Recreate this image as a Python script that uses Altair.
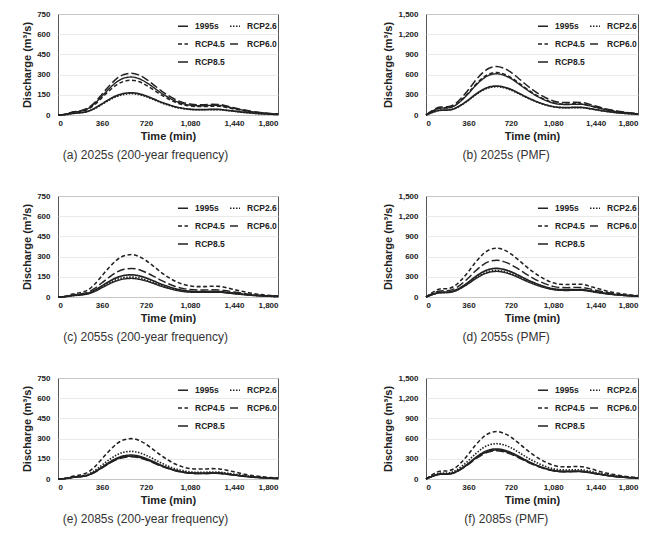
import altair as alt
import pandas as pd

# Time axis of every hydrograph (min)
time_min = list(range(0, 1801, 60))

scenarios = ["1995s", "RCP2.6", "RCP4.5", "RCP6.0", "RCP8.5"]

# (a) 2025s, 200-year frequency
a_1995s = [0, 3, 12, 17, 26, 50, 83, 116, 144, 160, 165, 158, 142, 120, 97, 78, 61, 50, 43, 40, 40, 42, 41, 35, 29, 22, 17, 12, 9, 6, 4]
a_rcp26 = [0, 3, 11, 16, 25, 47, 79, 111, 137, 153, 158, 152, 136, 115, 93, 74, 58, 47, 41, 39, 39, 40, 40, 34, 28, 21, 16, 11, 8, 6, 4]
a_rcp45 = [0, 5, 18, 26, 41, 77, 129, 181, 224, 250, 258, 248, 222, 188, 152, 121, 95, 77, 67, 63, 63, 66, 65, 55, 45, 35, 26, 19, 13, 9, 6]
a_rcp60 = [0, 6, 22, 31, 50, 93, 155, 217, 270, 301, 310, 298, 267, 226, 183, 146, 115, 93, 81, 76, 76, 79, 78, 67, 54, 42, 31, 22, 16, 11, 7]
a_rcp85 = [0, 6, 20, 28, 45, 85, 141, 197, 245, 274, 282, 271, 243, 206, 166, 133, 104, 85, 73, 69, 69, 72, 71, 61, 49, 38, 28, 20, 15, 10, 7]

# (b) 2025s, PMF
b_1995s = [0, 43, 71, 73, 95, 151, 224, 305, 374, 417, 430, 415, 381, 331, 277, 228, 185, 151, 125, 112, 110, 113, 112, 98, 80, 62, 47, 35, 26, 18, 12]
b_rcp26 = [0, 42, 69, 71, 92, 147, 218, 298, 365, 407, 420, 405, 372, 323, 271, 223, 181, 147, 122, 109, 107, 110, 109, 96, 78, 61, 46, 34, 25, 18, 12]
b_rcp45 = [0, 63, 104, 107, 139, 221, 329, 449, 550, 613, 632, 610, 559, 487, 408, 335, 272, 221, 183, 164, 161, 166, 164, 144, 117, 92, 70, 52, 38, 27, 18]
b_rcp60 = [0, 72, 119, 122, 158, 252, 374, 511, 626, 698, 720, 695, 637, 554, 464, 382, 310, 252, 209, 187, 184, 189, 187, 164, 133, 104, 79, 59, 43, 30, 20]
b_rcp85 = [0, 61, 101, 104, 135, 214, 318, 435, 532, 594, 612, 591, 542, 471, 395, 324, 263, 214, 177, 159, 156, 160, 159, 140, 113, 89, 67, 50, 37, 26, 17]

# (c) 2055s, 200-year frequency
c_1995s = [0, 3, 12, 17, 26, 50, 83, 116, 144, 160, 165, 158, 142, 120, 97, 78, 61, 50, 43, 40, 40, 42, 41, 35, 29, 22, 17, 12, 9, 6, 4]
c_rcp26 = [0, 3, 10, 15, 24, 44, 74, 104, 129, 144, 148, 142, 127, 108, 87, 70, 55, 44, 38, 36, 36, 38, 37, 32, 26, 20, 15, 11, 8, 5, 4]
c_rcp45 = [0, 6, 22, 32, 50, 95, 158, 221, 274, 306, 315, 302, 271, 230, 186, 148, 117, 95, 82, 77, 77, 80, 79, 68, 55, 43, 32, 23, 16, 11, 8]
c_rcp60 = [0, 4, 15, 21, 34, 64, 106, 148, 184, 206, 212, 204, 182, 155, 125, 100, 78, 64, 55, 52, 52, 54, 53, 46, 37, 29, 21, 15, 11, 8, 5]
c_rcp85 = [0, 3, 10, 14, 22, 41, 69, 97, 120, 134, 138, 132, 119, 101, 81, 65, 51, 41, 36, 34, 34, 35, 35, 30, 24, 19, 14, 10, 7, 5, 3]

# (d) 2055s, PMF
d_1995s = [0, 43, 70, 72, 94, 149, 221, 302, 370, 412, 425, 410, 376, 327, 274, 225, 183, 149, 123, 111, 108, 111, 111, 97, 79, 62, 47, 35, 26, 18, 12]
d_rcp26 = [0, 40, 65, 67, 87, 138, 205, 280, 344, 383, 395, 381, 350, 304, 255, 209, 170, 138, 115, 103, 101, 103, 103, 90, 73, 57, 43, 32, 24, 17, 11]
d_rcp45 = [0, 73, 120, 123, 160, 254, 377, 515, 631, 703, 725, 700, 642, 558, 468, 384, 312, 254, 210, 189, 185, 190, 189, 165, 134, 105, 80, 59, 44, 30, 20]
d_rcp60 = [0, 55, 90, 93, 120, 191, 283, 387, 474, 529, 545, 526, 482, 420, 352, 289, 234, 191, 158, 142, 139, 143, 142, 124, 101, 79, 60, 45, 33, 23, 15]
d_rcp85 = [0, 38, 63, 65, 84, 133, 198, 270, 331, 369, 380, 367, 336, 293, 245, 201, 163, 133, 110, 99, 97, 100, 99, 87, 70, 55, 42, 31, 23, 16, 11]

# (e) 2085s, 200-year frequency
e_1995s = [0, 3, 12, 17, 27, 51, 85, 119, 148, 165, 170, 163, 146, 124, 100, 80, 63, 51, 44, 42, 42, 43, 43, 37, 30, 23, 17, 12, 9, 6, 4]
e_rcp26 = [0, 4, 14, 21, 33, 62, 103, 144, 178, 199, 205, 197, 176, 150, 121, 96, 76, 62, 53, 50, 50, 52, 51, 44, 36, 28, 21, 15, 11, 7, 5]
e_rcp45 = [0, 6, 21, 30, 48, 90, 150, 210, 261, 291, 300, 288, 258, 219, 177, 141, 111, 90, 78, 74, 74, 77, 75, 65, 53, 41, 30, 22, 16, 11, 7]
e_rcp60 = [0, 3, 12, 17, 26, 50, 83, 116, 144, 160, 165, 158, 142, 120, 97, 78, 61, 50, 43, 40, 40, 42, 41, 35, 29, 22, 17, 12, 9, 6, 4]
e_rcp85 = [0, 4, 12, 18, 28, 53, 89, 125, 155, 173, 178, 171, 153, 130, 105, 84, 66, 53, 46, 44, 44, 45, 45, 38, 31, 24, 18, 13, 9, 6, 4]

# (f) 2085s, PMF
f_1995s = [0, 43, 71, 73, 95, 151, 225, 307, 376, 419, 432, 417, 382, 333, 279, 229, 186, 151, 125, 112, 110, 113, 112, 98, 80, 63, 48, 35, 26, 18, 12]
f_rcp26 = [0, 53, 87, 89, 116, 184, 273, 373, 457, 509, 525, 507, 465, 404, 339, 278, 226, 184, 152, 137, 134, 138, 137, 120, 97, 76, 58, 43, 32, 22, 15]
f_rcp45 = [0, 71, 116, 120, 155, 247, 367, 501, 613, 684, 705, 680, 624, 543, 455, 374, 303, 247, 204, 183, 180, 185, 183, 161, 130, 102, 78, 58, 42, 30, 20]
f_rcp60 = [0, 42, 69, 71, 92, 146, 217, 297, 364, 405, 418, 403, 370, 322, 270, 222, 180, 146, 121, 109, 107, 110, 109, 95, 77, 61, 46, 34, 25, 18, 12]
f_rcp85 = [0, 45, 74, 76, 99, 157, 233, 318, 390, 435, 448, 432, 396, 345, 289, 237, 193, 157, 130, 116, 114, 117, 116, 102, 83, 65, 49, 37, 27, 19, 13]

captions = [
    "(a) 2025s (200-year frequency)",
    "(b) 2025s (PMF)",
    "(c) 2055s (200-year frequency)",
    "(d) 2055s (PMF)",
    "(e) 2085s (200-year frequency)",
    "(f) 2085s (PMF)",
]

x_ticks = [0, 360, 720, 1080, 1440, 1800]
y_ticks_200 = [0, 150, 300, 450, 600, 750]
y_ticks_pmf = [0, 300, 600, 900, 1200, 1500]

FONT = "Liberation Sans"
INK = "#222222"


def to_frame(series_values):
    rows = []
    for name, vals in zip(scenarios, series_values):
        for t, q in zip(time_min, vals):
            rows.append({"time": t, "discharge": q, "scenario": name})
    return pd.DataFrame(rows)


def panel(series_values, y_ticks, caption, width, legend_x):
    df = to_frame(series_values)
    legend_common = dict(
        title=None,
        orient="none",
        legendX=legend_x,
        legendY=6,
        direction="horizontal",
        columns=2,
    )
    return (
        alt.Chart(df)
        .mark_line(interpolate="monotone", color=INK)
        .encode(
            x=alt.X(
                "time:Q",
                title="Time (min)",
                scale=alt.Scale(domain=[0, 1800], nice=False),
                axis=alt.Axis(values=x_ticks, format=",.0f", grid=False),
            ),
            y=alt.Y(
                "discharge:Q",
                title="Discharge (m³/s)",
                scale=alt.Scale(domain=[y_ticks[0], y_ticks[-1]], nice=False),
                axis=alt.Axis(values=y_ticks, format=",.0f"),
            ),
            strokeDash=alt.StrokeDash(
                "scenario:N",
                scale=alt.Scale(
                    domain=scenarios,
                    range=[[1, 0], [1.5, 1.5], [4, 2.5], [8, 3], [1, 0]],
                ),
                legend=alt.Legend(
                    **legend_common,
                    columnPadding=1,
                    rowPadding=7,
                    symbolType="stroke",
                    symbolSize=100,
                    symbolStrokeColor=INK,
                    labelOffset=6,
                    labelFont=FONT,
                    labelFontSize=8.5,
                    labelFontWeight="bold",
                    labelColor=INK,
                ),
            ),
            strokeWidth=alt.StrokeWidth(
                "scenario:N",
                scale=alt.Scale(domain=scenarios, range=[1.7, 1.4, 1.8, 1.8, 3.0]),
                legend=alt.Legend(**legend_common),
            ),
            order=alt.Order("time:Q"),
        )
        .properties(
            width=width,
            height=101,
            title=alt.TitleParams(
                caption,
                orient="bottom",
                anchor="middle",
                frame="bounds",
                offset=9,
                dx=-6,
                font=FONT,
                fontSize=12,
                fontWeight="normal",
                color="#333333",
            ),
        )
        .resolve_scale(strokeDash="independent", strokeWidth="independent")
    )


panels = [
    panel([a_1995s, a_rcp26, a_rcp45, a_rcp60, a_rcp85], y_ticks_200, captions[0], 220, 119),
    panel([b_1995s, b_rcp26, b_rcp45, b_rcp60, b_rcp85], y_ticks_pmf, captions[1], 212, 111),
    panel([c_1995s, c_rcp26, c_rcp45, c_rcp60, c_rcp85], y_ticks_200, captions[2], 220, 119),
    panel([d_1995s, d_rcp26, d_rcp45, d_rcp60, d_rcp85], y_ticks_pmf, captions[3], 212, 111),
    panel([e_1995s, e_rcp26, e_rcp45, e_rcp60, e_rcp85], y_ticks_200, captions[4], 220, 119),
    panel([f_1995s, f_rcp26, f_rcp45, f_rcp60, f_rcp85], y_ticks_pmf, captions[5], 212, 111),
]

chart = (
    alt.concat(*panels, columns=2, spacing={"row": 81, "column": 148}, bounds="flush")
    .resolve_scale(strokeDash="independent", strokeWidth="independent")
    .resolve_legend(strokeDash="independent", strokeWidth="independent")
    .properties(padding={"left": 21, "top": 9, "right": 5, "bottom": 5}, background="white")
    .configure_view(stroke="#555555", strokeWidth=1)
    .configure_axis(
        labelFont=FONT,
        labelFontSize=8,
        labelFontWeight="bold",
        labelColor=INK,
        titleFont=FONT,
        titleFontSize=11,
        titleFontWeight="bold",
        titleColor=INK,
        ticks=False,
        domain=False,
        gridColor="#e3e3e3",
        gridWidth=0.8,
    )
    .configure_axisX(labelPadding=4, titlePadding=3)
    .configure_axisY(labelPadding=8, titlePadding=4)
)

chart.save("out.html", embed_options={"renderer": "svg", "actions": False})
